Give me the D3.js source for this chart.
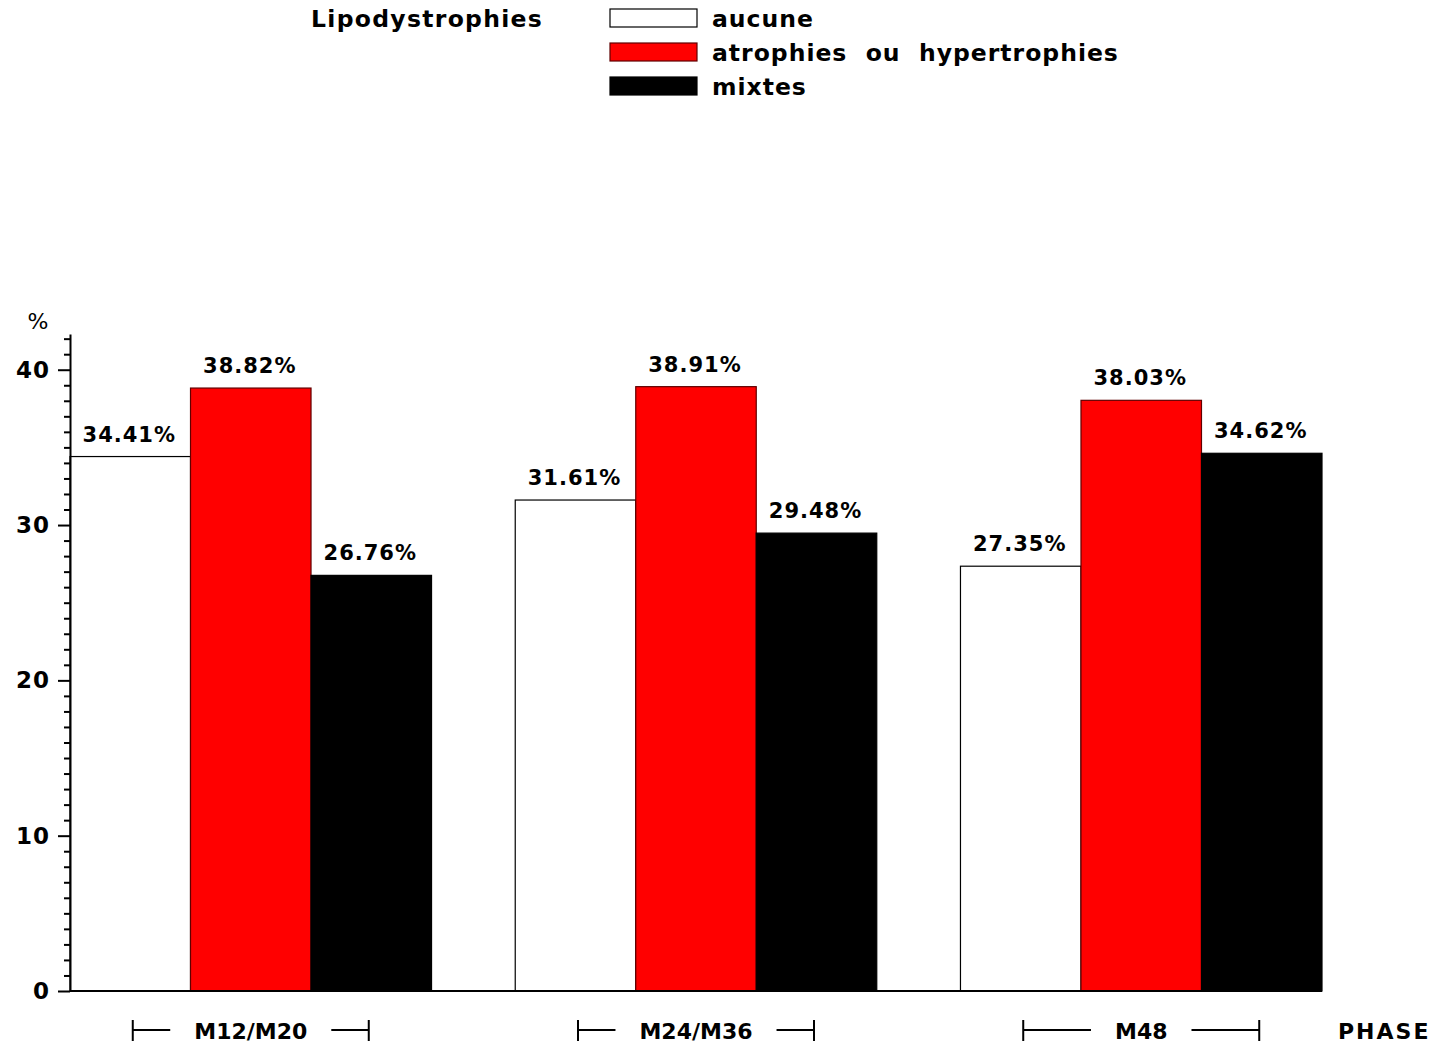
<!DOCTYPE html>
<html>
<head>
<meta charset="utf-8">
<script src="https://cdn.jsdelivr.net/npm/d3@7"></script>
<style>
  body { margin: 0; background: #fff; }
  svg text { font-family: "DejaVu Sans", sans-serif; font-weight: bold; fill: #000; }
</style>
</head>
<body>
<svg width="1440" height="1043"></svg>
<script>
const phases = ["M12/M20", "M24/M36", "M48"];
const seriesKeys = ["aucune", "atrophies ou hypertrophies", "mixtes"];
const aucune = [34.41, 31.61, 27.35];
const atrophies = [38.82, 38.91, 38.03];
const mixtes = [26.76, 29.48, 34.62];
const yTicks = [0, 10, 20, 30, 40];

(function() {
    const svg = d3.select("svg");
    const left = 70, right = 1322, bottom = 991, top = 334;

    const data = phases.map((p, i) => ({
        phase: p,
        values: [aucune[i], atrophies[i], mixtes[i]]
    }));

    const x0 = d3.scaleBand().domain(phases).range([left, right])
        .paddingInner(0.188).paddingOuter(0);
    const x1 = d3.scaleBand().domain(seriesKeys).range([0, x0.bandwidth()]);
    const y = d3.scaleLinear().domain([0, 42.3]).range([bottom, top]);
    const fill = d3.scaleOrdinal().domain(seriesKeys).range(["#ffffff", "#ff0000", "#000000"]);
    const stroke = d3.scaleOrdinal().domain(seriesKeys).range(["#000000", "#600000", "#000000"]);

    // legend
    svg.append("text")
        .attr("x", 311).attr("y", 27)
        .style("font-size", "23.5px").style("letter-spacing", "1.3px")
        .text("Lipodystrophies");
    const leg = svg.selectAll(".leg").data(seriesKeys).enter().append("g")
        .attr("transform", (d, i) => `translate(0,${9 + i * 34})`);
    leg.append("rect")
        .attr("x", 610).attr("y", 0).attr("width", 87).attr("height", 18)
        .attr("fill", d => fill(d)).attr("stroke", d => stroke(d)).attr("stroke-width", 1.2);
    leg.append("text")
        .attr("x", 712).attr("y", 18)
        .style("font-size", "23.5px").style("letter-spacing", "1px")
        .attr("xml:space", "preserve")
        .text(d => d === "atrophies ou hypertrophies" ? "atrophies  ou  hypertrophies" : d);

    // bars
    const grp = svg.selectAll(".grp").data(data).enter().append("g")
        .attr("transform", d => `translate(${x0(d.phase)},0)`);
    const bar = grp.selectAll(".bar")
        .data(d => d.values.map((v, i) => ({ key: seriesKeys[i], value: v })))
        .enter();
    bar.append("rect")
        .attr("x", d => x1(d.key))
        .attr("y", d => y(d.value))
        .attr("width", x1.bandwidth())
        .attr("height", d => bottom - y(d.value))
        .attr("fill", d => fill(d.key))
        .attr("stroke", d => stroke(d.key))
        .attr("stroke-width", 1.2);
    bar.append("text")
        .attr("x", d => x1(d.key) + x1.bandwidth() / 2 - 1)
        .attr("y", d => y(d.value) - 15)
        .attr("text-anchor", "middle")
        .style("font-size", "21px").style("letter-spacing", "1px")
        .text(d => d.value.toFixed(2) + "%");

    // y axis
    const minor = d3.range(0, 43).filter(v => v % 10 !== 0);
    svg.append("g")
        .attr("transform", `translate(${left},0)`)
        .call(d3.axisLeft(y).tickValues(minor).tickSize(6).tickFormat("").tickSizeOuter(0))
        .call(g => g.select(".domain").remove())
        .call(g => g.selectAll("line").attr("stroke", "#000").attr("stroke-width", 2));
    svg.append("g")
        .attr("transform", `translate(${left},0)`)
        .call(d3.axisLeft(y).tickValues(yTicks).tickSize(12).tickPadding(8).tickSizeOuter(0))
        .call(g => g.select(".domain").attr("stroke", "#000").attr("stroke-width", 2))
        .call(g => g.selectAll("line").attr("stroke", "#000").attr("stroke-width", 2))
        .call(g => g.selectAll("text")
            .style("font-family", "'DejaVu Sans', sans-serif")
            .style("font-weight", "bold")
            .style("font-size", "23px")
            .style("letter-spacing", "1px")
            .attr("fill", "#000"));
    svg.append("text")
        .attr("x", 38).attr("y", 329)
        .attr("text-anchor", "middle")
        .style("font-weight", "normal").style("font-size", "22px")
        .text("%");

    // x axis baseline
    svg.append("line")
        .attr("x1", left).attr("x2", right)
        .attr("y1", bottom).attr("y2", bottom)
        .attr("stroke", "#000").attr("stroke-width", 2);

    // phase labels with brackets
    const ph = svg.selectAll(".ph").data(phases).enter().append("g")
        .attr("transform", d => `translate(${x0(d) + x0.bandwidth() / 2},0)`);
    ph.each(function(d) {
        const g = d3.select(this);
        const t = g.append("text")
            .attr("x", 0).attr("y", 1039)
            .attr("text-anchor", "middle")
            .style("font-size", "22px")
            .text(d);
        const hw = t.node().getBBox().width / 2 + 24;
        const w = 118;
        g.append("path")
            .attr("d", `M${-w},1020V1041M${-w},1030H${-hw}M${hw},1030H${w}M${w},1020V1041`)
            .attr("fill", "none").attr("stroke", "#000").attr("stroke-width", 2);
    });
    svg.append("text")
        .attr("x", 1338).attr("y", 1039)
        .style("font-size", "22px").style("letter-spacing", "2px")
        .text("PHASE");
})();
</script>
</body>
</html>
